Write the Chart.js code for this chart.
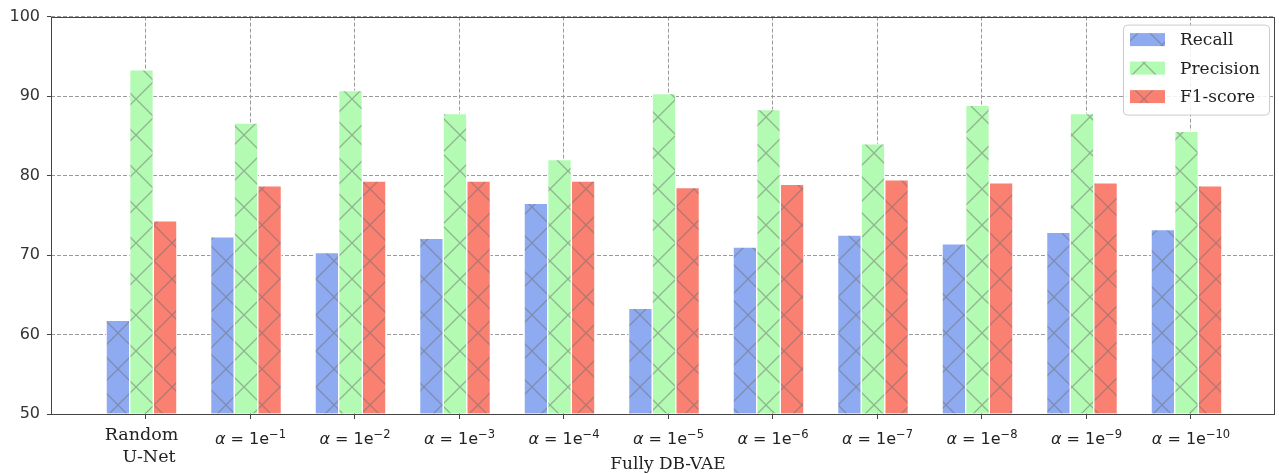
<!DOCTYPE html>
<html>
<head>
<meta charset="utf-8">
<script src="https://cdn.jsdelivr.net/npm/chart.js@4.4.0/dist/chart.umd.min.js"></script>
<style>
  html, body { margin: 0; padding: 0; background: #fff; }
  #wrap { width: 1279px; height: 474px; }
</style>
</head>
<body>
<div id="wrap"><canvas id="myChart"></canvas></div>
<script>
const categories = ["Random\nU-Net", "α = 1e-1", "α = 1e-2", "α = 1e-3", "α = 1e-4", "α = 1e-5",
  "α = 1e-6", "α = 1e-7", "α = 1e-8", "α = 1e-9", "α = 1e-10"];
const recall = [61.8, 72.3, 70.3, 72.1, 76.5, 63.3, 71.0, 72.5, 71.4, 72.85, 73.2];
const precision = [93.3, 86.6, 90.7, 87.8, 82.0, 90.3, 88.3, 84.0, 88.85, 87.8, 85.55];
const f1score = [74.3, 78.7, 79.3, 79.3, 79.3, 78.5, 78.9, 79.45, 79.1, 79.1, 78.7];
const yTicks = [50, 60, 70, 80, 90, 100];
const xTitle = "Fully DB-VAE";

const SANS = '"DejaVu Sans"';
const SERIF = '"DejaVu Serif"';
const barShift = -0.043; // bars sit a bit left of the tick marks

// diagonal cross hatch, anchored to the canvas like matplotlib's
function hatch(color) {
  const c = document.createElement("canvas");
  c.width = c.height = 36;
  const g = c.getContext("2d");
  g.fillStyle = color;
  g.fillRect(0, 0, 36, 36);
  g.strokeStyle = "rgba(110,110,110,0.5)";
  g.lineWidth = 1.3;
  g.beginPath();
  g.moveTo(-1, -1); g.lineTo(37, 37);
  g.moveTo(-1, 37); g.lineTo(37, -1);
  g.stroke();
  const p = g.createPattern(c, "repeat");
  p.setTransform(new DOMMatrix().translate(10, 9));
  return p;
}

const series = [
  { label: "Recall", values: recall, color: "#8eaaf0" },
  { label: "Precision", values: precision, color: "#b3fbb3" },
  { label: "F1-score", values: f1score, color: "#fa8072" },
];

const framePlugin = {
  id: "frame",
  afterDraw(chart) {
    const { ctx, chartArea: a } = chart;
    ctx.save();
    ctx.strokeStyle = "#444";
    ctx.lineWidth = 1;
    ctx.strokeRect(Math.round(a.left) + 0.5, Math.round(a.top) + 0.5,
      Math.round(a.right - a.left) - 1, Math.round(a.bottom - a.top));
    ctx.restore();
  }
};

const xLabelPlugin = {
  id: "xLabels",
  afterDraw(chart) {
    const { ctx, chartArea: a } = chart;
    const s = chart.scales.x;
    ctx.save();
    ctx.fillStyle = "#222";
    ctx.textBaseline = "alphabetic";
    categories.forEach((lab, i) => {
      const px = s.getPixelForValue(i);
      const m = lab.match(/^α = 1e(-?\d+)$/);
      if (m) {
        const parts = [
          { t: "α", f: "italic 16px " + SANS, dy: 0 },
          { t: " = ", f: "16px " + SANS, dy: 0 },
          { t: "1e", f: "16px " + SANS, dy: 0 },
          { t: m[1].replace("-", "\u2212"), f: "11.5px " + SANS, dy: -6 },
        ];
        let w = 0;
        parts.forEach(p => { ctx.font = p.f; p.w = ctx.measureText(p.t).width; w += p.w; });
        let x = px - w / 2;
        ctx.textAlign = "left";
        parts.forEach(p => { ctx.font = p.f; ctx.fillText(p.t, x, 444 + p.dy); x += p.w; });
      } else {
        const lines = lab.split("\n");
        ctx.font = "17.5px " + SERIF;
        ctx.textAlign = "center";
        ctx.fillText(lines[0], px - 4.5, 440);
        ctx.fillText(lines[1], px + 3, 462);
      }
    });
    ctx.font = "17px " + SERIF;
    ctx.textAlign = "center";
    ctx.fillText(xTitle, (a.left + a.right) / 2 + 5, 469);
    ctx.restore();
  }
};

const legendPlugin = {
  id: "boxLegend",
  afterDraw(chart) {
    const { ctx, chartArea: a } = chart;
    const w = 146, h = 90;
    const x0 = a.right - 6 - w, y0 = a.top + 8;
    ctx.save();
    ctx.fillStyle = "rgba(255,255,255,0.85)";
    ctx.strokeStyle = "#cccccc";
    ctx.lineWidth = 1;
    ctx.beginPath();
    ctx.roundRect(x0 + 0.5, y0 + 0.5, w, h, 4);
    ctx.fill();
    ctx.stroke();
    chart.data.datasets.forEach((ds, i) => {
      const cy = y0 + 15 + i * 28.5;
      ctx.fillStyle = ds.backgroundColor;
      ctx.fillRect(x0 + 7, cy - 6.5, 35, 13);
      ctx.fillStyle = "#222";
      ctx.font = "17px " + SERIF;
      ctx.textAlign = "left";
      ctx.textBaseline = "middle";
      ctx.fillText(ds.label, x0 + 57, cy + 1);
    });
    ctx.restore();
  }
};

const ctx = document.getElementById("myChart").getContext("2d");
const chart = new Chart(ctx, {
  type: "bar",
  data: {
    datasets: series.map(s => ({
      label: s.label,
      data: s.values.map((v, i) => ({ x: i + barShift, y: v })),
      backgroundColor: hatch(s.color),
      borderColor: "#ffffff",
      borderWidth: 1,
      barThickness: 23.6,
      base: 50,
      clip: 0,
    })),
  },
  options: {
    responsive: true,
    maintainAspectRatio: false,
    animation: false,
    devicePixelRatio: 1,
    layout: { padding: { top: 15, right: 4, left: 0, bottom: 0 } },
    plugins: {
      legend: { display: false },
      tooltip: { enabled: false },
    },
    scales: {
      x: {
        type: "linear",
        offset: false,
        min: -0.909,
        max: 10.804,
        afterBuildTicks: s => { s.ticks = categories.map((_, i) => ({ value: i })); },
        afterFit: s => { s.height = 60; },
        ticks: { display: false },
        grid: { offset: false, color: "#9a9a9a", lineWidth: 1, tickLength: 5, tickColor: "#444" },
        border: { display: false, dash: [4, 2] },
      },
      y: {
        min: 50,
        max: 100,
        afterBuildTicks: s => { s.ticks = yTicks.map(v => ({ value: v })); },
        afterFit: s => { s.width = 51; },
        ticks: { font: { family: "DejaVu Sans", size: 16 }, color: "#333", padding: 7 },
        grid: { color: "#9a9a9a", lineWidth: 1, tickLength: 4, tickColor: "#444" },
        border: { display: false, dash: [4, 2] },
      },
    },
  },
  plugins: [framePlugin, xLabelPlugin, legendPlugin],
});
</script>
</body>
</html>
